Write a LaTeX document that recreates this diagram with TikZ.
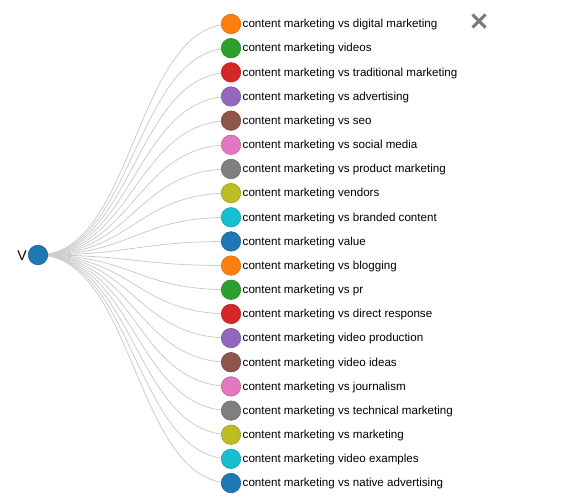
\documentclass[tikz,border=0pt]{standalone}
\usepackage{fontspec}
\setmainfont{Liberation Sans}
\usetikzlibrary{backgrounds}
\definecolor{cblue}{HTML}{1F77B4}
\definecolor{corange}{HTML}{FF7F0E}
\definecolor{cgreen}{HTML}{2CA02C}
\definecolor{cred}{HTML}{D62728}
\definecolor{cpurple}{HTML}{9467BD}
\definecolor{cbrown}{HTML}{8C564B}
\definecolor{cpink}{HTML}{E377C2}
\definecolor{cgray}{HTML}{7F7F7F}
\definecolor{colive}{HTML}{BCBD22}
\definecolor{ccyan}{HTML}{17BECF}
\definecolor{linkgray}{HTML}{CCCCCC}
\tikzset{
  dot/.style={circle, inner sep=0pt, minimum size=19.5pt, fill=#1, draw=#1!85!black, line width=0.6pt},
  link/.style={draw=linkgray, line width=0.8pt},
  lbl/.style={anchor=west, inner sep=0pt, font=\fontsize{11.6}{14}\selectfont}
}
\begin{document}
\begin{tikzpicture}[x=1pt, y=-1pt]
  \useasboundingbox (0,0) rectangle (568,500);
  % root
  \node[dot=cblue] (root) at (38,255) {};
  \node[lbl, anchor=east, font=\fontsize{14}{16}\selectfont] (rootlbl) at (27,255.5) {V};
  % leaves
  \foreach \c/\t [count=\i from 0] in {
      corange/content marketing vs digital marketing,
      cgreen/content marketing videos,
      cred/content marketing vs traditional marketing,
      cpurple/content marketing vs advertising,
      cbrown/content marketing vs seo,
      cpink/content marketing vs social media,
      cgray/content marketing vs product marketing,
      colive/content marketing vendors,
      ccyan/content marketing vs branded content,
      cblue/content marketing value,
      corange/content marketing vs blogging,
      cgreen/content marketing vs pr,
      cred/content marketing vs direct response,
      cpurple/content marketing video production,
      cbrown/content marketing video ideas,
      cpink/content marketing vs journalism,
      cgray/content marketing vs technical marketing,
      colive/content marketing vs marketing,
      ccyan/content marketing video examples,
      cblue/content marketing vs native advertising} {
    \node[dot=\c] (leaf\i) at (231,{24+\i*24.16}) {};
    \node[lbl] (txt\i) at (242.5,{24.8+\i*24.16}) {\t};
  }
  % links
  \begin{scope}[on background layer]
    \foreach \i in {0,...,19}
      \draw[link] (root.center) .. controls +(96.5,0) and +(-96.5,0) .. (leaf\i.center);
  \end{scope}
  % close icon
  \begin{scope}[shift={(479,21)}]
    \draw[cgray!95!black, line width=3pt] (-6.5,-6.5) -- (6.5,6.5) (-6.5,6.5) -- (6.5,-6.5);
  \end{scope}
\end{tikzpicture}
\end{document}
